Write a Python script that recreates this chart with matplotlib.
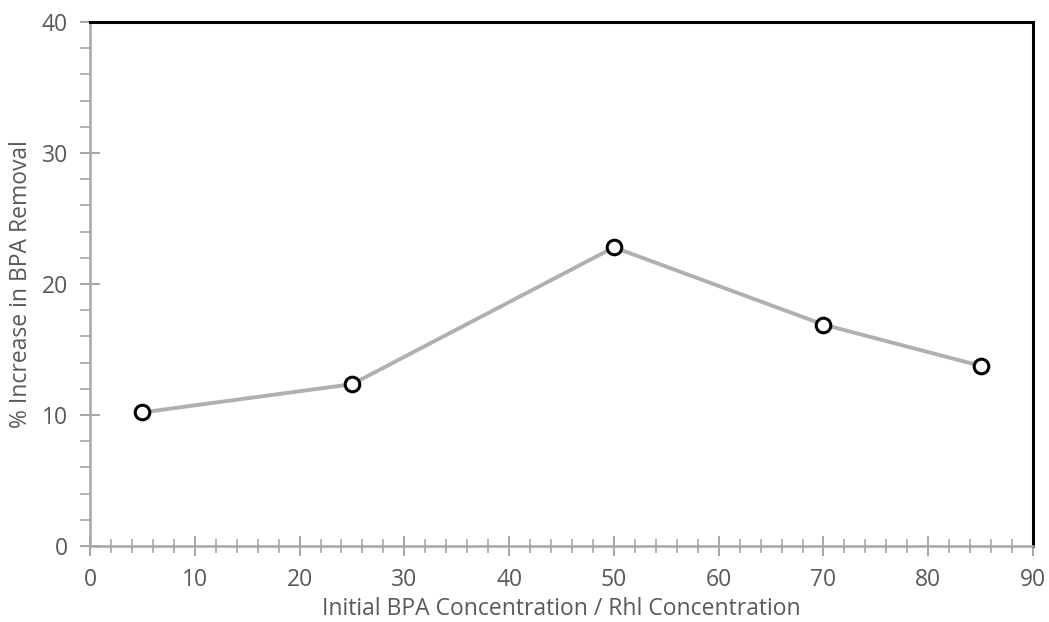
import matplotlib
matplotlib.use("Agg")
import matplotlib.pyplot as plt
from matplotlib.ticker import MultipleLocator

x_vals = [5, 25, 50, 70, 85]
y_vals = [10.2, 12.35, 22.8, 16.9, 13.75]
x_label = "Initial BPA Concentration / Rhl Concentration"
y_label = "% Increase in BPA Removal"

plt.rcParams['font.family'] = ['Open Sans', 'DejaVu Sans']

fig = plt.figure(figsize=(10.49, 6.22), dpi=100)
ax = fig.add_axes([0.0858, 0.1222, 0.899, 0.8424])

ax.plot(x_vals, y_vals, color='#B0B0B0', lw=2.8, zorder=2)
ax.plot(x_vals, y_vals, ls='none', marker='o', ms=10.5, mfc='white', mec='black', mew=2.2, zorder=3)

ax.set_xlim(0, 90)
ax.set_ylim(0, 40)
ax.xaxis.set_major_locator(MultipleLocator(10))
ax.xaxis.set_minor_locator(MultipleLocator(2))
ax.yaxis.set_major_locator(MultipleLocator(10))
ax.yaxis.set_minor_locator(MultipleLocator(2))

gray = '#A6A6A6'
for s in ['left', 'bottom']:
    ax.spines[s].set_color(gray)
    ax.spines[s].set_linewidth(1.8)
for s in ['top', 'right']:
    ax.spines[s].set_color('black')
    ax.spines[s].set_linewidth(2.2)

ax.tick_params(axis='both', which='major', direction='inout', length=14, width=1.4, color=gray,
               labelsize=16.5, labelcolor='#595959')
ax.tick_params(axis='x', which='major', pad=9)
ax.tick_params(axis='y', which='major', pad=9)
ax.tick_params(axis='x', which='minor', direction='inout', length=10, width=1.2, color=gray)
ax.tick_params(axis='y', which='minor', direction='out', length=7, width=1.2, color=gray)

ax.set_xlabel(x_label, fontsize=16.5, color='#595959')
ax.set_ylabel(y_label, fontsize=16.5, color='#595959')
ax.xaxis.set_label_coords(0.5, -0.097)
ax.yaxis.set_label_coords(-0.06, 0.5)

fig.savefig("out.png", dpi=100)
